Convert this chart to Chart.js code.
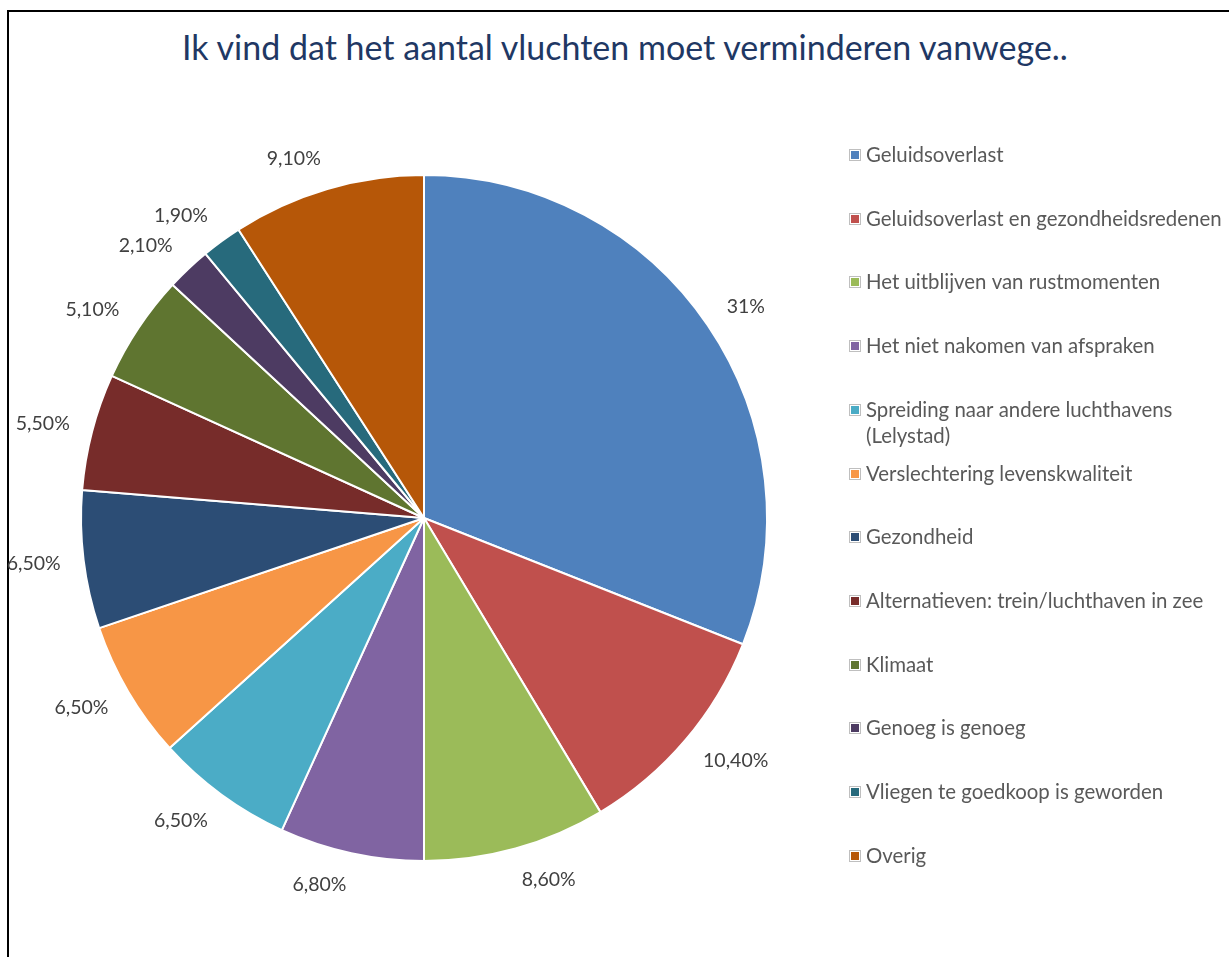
<!DOCTYPE html>
<html>
<head>
<meta charset="utf-8">
<script src="https://cdn.jsdelivr.net/npm/chart.js@4/dist/chart.umd.min.js"></script>
<style>
  body { margin: 0; background: #fff; }
  #moldura { position: absolute; left: 7px; top: 10px; width: 1300px; height: 1000px; border-top: 2px solid #000; border-left: 2px solid #000; }
  #titulo { position: absolute; left: 0; top: 27px; width: 1250px; margin: 0; text-align: center; font: 400 34px Lato; line-height: 40px; color: #1F3864; }
  #grafico { position: absolute; left: 0; top: 0; }
</style>
</head>
<body>
<div id="moldura"></div>
<h1 id="titulo">Ik vind dat het aantal vluchten moet verminderen vanwege..</h1>
<canvas id="grafico" width="1229" height="957"></canvas>
<script>
// categorias da legenda (a da Lelystad quebra em duas linhas)
var categorias = [
  'Geluidsoverlast',
  'Geluidsoverlast en gezondheidsredenen',
  'Het uitblijven van rustmomenten',
  'Het niet nakomen van afspraken',
  ['Spreiding naar andere luchthavens', '(Lelystad)'],
  'Verslechtering levenskwaliteit',
  'Gezondheid',
  'Alternatieven: trein/luchthaven in zee',
  'Klimaat',
  'Genoeg is genoeg',
  'Vliegen te goedkoop is geworden',
  'Overig'
];

// percentuais de cada fatia
var valores = [31, 10.4, 8.6, 6.8, 6.5, 6.5, 6.5, 5.5, 5.1, 2.1, 1.9, 9.1];

var cores = [
  '#4F81BD', '#C0504D', '#9BBB59', '#8064A2', '#4BACC6', '#F79646',
  '#2C4D75', '#772C2A', '#5F7530', '#4D3B62', '#276A7C', '#B65708'
];

// 31 -> "31%", 10.4 -> "10,40%"
function formataPct(v) {
  if (Number.isInteger(v)) return v + '%';
  return v.toFixed(2).replace('.', ',') + '%';
}

// rotulos fora da pizza
var rotulosFatias = {
  id: 'rotulosFatias',
  afterDatasetsDraw: function (chart) {
    var ctx = chart.ctx;
    var meta = chart.getDatasetMeta(0);
    ctx.save();
    ctx.font = '19.5px Lato';
    ctx.fillStyle = '#404040';
    ctx.textAlign = 'center';
    ctx.textBaseline = 'middle';
    meta.data.forEach(function (arco, i) {
      var meio = (arco.startAngle + arco.endAngle) / 2;
      var texto = formataPct(valores[i]);
      var largura = ctx.measureText(texto).width;
      var r = arco.outerRadius + 23;
      var cx = Math.cos(meio), sy = Math.sin(meio);
      var x = arco.x + cx * r + Math.sign(cx) * largura / 2;
      var y = arco.y + sy * (r + 9);
      ctx.fillText(texto, x, y);
    });
    ctx.restore();
  }
};

// legenda do lado direito, espacamento fixo
var legendaLateral = {
  id: 'legendaLateral',
  afterDraw: function (chart) {
    var ctx = chart.ctx;
    var x0 = chart.chartArea.right + 41;
    var y0 = chart.chartArea.top + 21;
    var passo = 63.7;
    ctx.save();
    ctx.font = '20.4px Lato';
    ctx.textAlign = 'left';
    ctx.textBaseline = 'middle';
    for (var i = 0; i < categorias.length; i++) {
      var y = Math.round(y0 + i * passo);
      ctx.strokeStyle = '#BFBFBF';
      ctx.lineWidth = 1;
      ctx.strokeRect(x0 + 0.5, y - 5.5, 11, 11);
      ctx.fillStyle = cores[i];
      ctx.fillRect(x0 + 2, y - 4, 8, 8);
      ctx.fillStyle = '#595959';
      var linhas = Array.isArray(categorias[i]) ? categorias[i] : [categorias[i]];
      for (var j = 0; j < linhas.length; j++) {
        ctx.fillText(linhas[j], x0 + 17, y + j * 26);
      }
    }
    ctx.restore();
  }
};

function montaGrafico() {
  var ctx = document.getElementById('grafico').getContext('2d');
  var chart = new Chart(ctx, {
    type: 'pie',
    data: {
      labels: categorias,
      datasets: [
        {
          data: valores,
          backgroundColor: cores,
          borderColor: '#FFFFFF',
          borderWidth: 2,
          hoverOffset: 0,
          radius: 343
        }
      ]
    },
    options: {
      responsive: false,
      animation: false,
      layout: {
        padding: { left: 40, right: 421, top: 134, bottom: 55 }
      },
      plugins: {
        legend: { display: false },
        tooltip: { enabled: false }
      }
    },
    plugins: [rotulosFatias, legendaLateral]
  });
}

montaGrafico();
</script>
</body>
</html>
